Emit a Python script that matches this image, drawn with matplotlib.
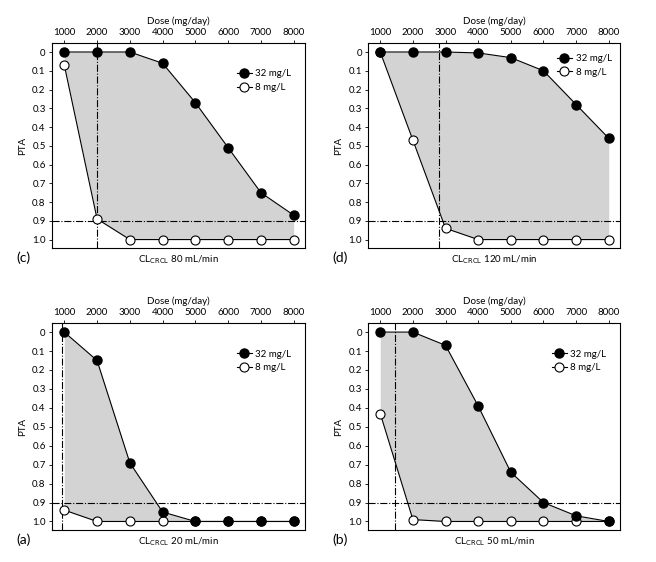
import matplotlib
matplotlib.use("Agg")
import matplotlib.pyplot as plt
import numpy as np

plt.rcParams['font.family'] = ['Lato', 'DejaVu Sans']

doses = [1000, 2000, 3000, 4000, 5000, 6000, 7000, 8000]
dose_labels = ["1000", "2000", "3000", "4000", "5000", "6000", "7000", "8000"]
pta_ticks = [0, 0.1, 0.2, 0.3, 0.4, 0.5, 0.6, 0.7, 0.8, 0.9, 1.0]
pta_tick_labels = ["0", "0.1", "0.2", "0.3", "0.4", "0.5", "0.6", "0.7", "0.8", "0.9", "1.0"]

# panel (c) CLcrcl 80 mL/min
c_32 = [0.0, 0.0, 0.0, 0.06, 0.27, 0.51, 0.75, 0.87]
c_8 = [0.07, 0.89, 1.0, 1.0, 1.0, 1.0, 1.0, 1.0]
c_vline = 2000
# panel (d) CLcrcl 120 mL/min
d_32 = [0.0, 0.0, 0.0, 0.005, 0.03, 0.10, 0.28, 0.46]
d_8 = [0.0, 0.47, 0.94, 1.0, 1.0, 1.0, 1.0, 1.0]
d_vline = 2800
# panel (a) CLcrcl 20 mL/min
a_32 = [0.0, 0.15, 0.69, 0.95, 1.0, 1.0, 1.0, 1.0]
a_8 = [0.94, 1.0, 1.0, 1.0, 1.0, 1.0, 1.0, 1.0]
a_vline = 930
# panel (b) CLcrcl 50 mL/min
b_32 = [0.0, 0.0, 0.07, 0.39, 0.74, 0.90, 0.97, 1.0]
b_8 = [0.43, 0.99, 1.0, 1.0, 1.0, 1.0, 1.0, 1.0]
b_vline = 1460

target = 0.9

panels = [
    ("(c)", "80", c_32, c_8, c_vline, [52, 43, 305, 248], (0.97, 0.9)),
    ("(d)", "120", d_32, d_8, d_vline, [368, 43, 620, 248], (0.99, 0.975)),
    ("(a)", "20", a_32, a_8, a_vline, [52, 323, 305, 530], (0.97, 0.9)),
    ("(b)", "50", b_32, b_8, b_vline, [368, 323, 620, 530], (0.97, 0.9)),
]

W, H = 656, 562
fig = plt.figure(figsize=(W / 100, H / 100), dpi=100)
fs = 7

for lab, cl, y32, y8, vx, (x0, y0, x1, y1), lpos in panels:
    ax = fig.add_axes([x0 / W, 1 - y1 / H, (x1 - x0) / W, (y1 - y0) / H])
    ax.fill_between(doses, y32, y8, color='#d3d3d3', linewidth=0, zorder=1)
    ax.plot(doses, y32, color='black', lw=0.8, marker='o', ms=6.5,
            mfc='black', mec='black', zorder=4, label='32 mg/L')
    ax.plot(doses, y8, color='black', lw=0.8, marker='o', ms=6.5,
            mfc='white', mec='black', mew=0.8, zorder=3, label='8 mg/L')
    ax.axhline(target, color='black', lw=0.8, ls='-.', zorder=2)
    ax.axvline(vx, color='black', lw=0.8, ls='-.', zorder=2)
    ax.set_xlim(625, 8345)
    ax.set_ylim(1.045, -0.048)
    ax.xaxis.tick_top()
    ax.xaxis.set_label_position('top')
    ax.set_xticks(doses)
    ax.set_xticklabels(dose_labels, fontsize=fs)
    ax.set_yticks(pta_ticks)
    ax.set_yticklabels(pta_tick_labels, fontsize=fs)
    ax.tick_params(length=2.5, width=0.6, pad=2)
    ax.set_xlabel("Dose (mg/day)", fontsize=fs, labelpad=3)
    ax.set_ylabel("PTA", fontsize=fs, labelpad=4)
    for s in ax.spines.values():
        s.set_linewidth(0.8)
    ax.legend(loc='upper right', bbox_to_anchor=lpos, frameon=False,
              fontsize=fs, handlelength=1.5, handletextpad=0.4,
              labelspacing=0.5, borderaxespad=0.2)
    ax.text(0.5, -0.025, r"CL$_{\mathrm{CRCL}}$ " + cl + " mL/min",
            transform=ax.transAxes, ha='center', va='top', fontsize=fs)
    ax.text(-0.14, -0.015, lab, transform=ax.transAxes, ha='left', va='top',
            fontsize=10)

fig.savefig("out.png", dpi=100)
